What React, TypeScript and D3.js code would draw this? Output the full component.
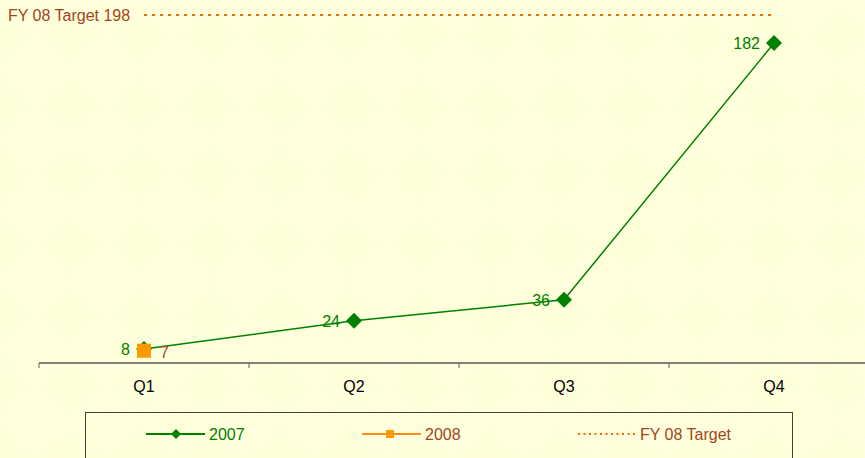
import React from "react";
import * as d3 from "d3";

const categories = ["Q1", "Q2", "Q3", "Q4"];
const values2007 = [8, 24, 36, 182];
const values2008 = [7];
const targetValue = 198;
const targetLabel = "FY 08 Target";
const seriesNames = ["2007", "2008", "FY 08 Target"];

const W = 865;
const H = 458;
const GREEN = "#008000";
const ORANGE_MARK = "#FF9900";
const ORANGE_LINE = "#FF6600";
const BROWN = "#A0461E";
const FONT = "'Liberation Sans', Arial, sans-serif";
const FS = 16;

export default function App() {
  const x = d3.scaleBand<string>().domain(categories).range([39, 879]).padding(0);
  const y = d3.scaleLinear().domain([0, 198]).range([363, 15]);
  const cx = (c: string) => (x(c) as number) + x.bandwidth() / 2;

  const line = d3
    .line<number>()
    .x((_, i) => cx(categories[i]))
    .y((d) => y(d));

  const diamond = (px: number, py: number, r: number) =>
    `M${px},${py - r}L${px + r},${py}L${px},${py + r}L${px - r},${py}Z`;

  const ticks = [...categories.map((c) => x(c) as number), 879];

  return (
    <svg
      width={W}
      height={H}
      style={{ position: "absolute", left: 0, top: 0, display: "block" }}
      fontFamily={FONT}
    >
      <defs>
        <pattern id="bg" width="6" height="6" patternUnits="userSpaceOnUse" patternTransform="rotate(45)">
          <rect width="6" height="6" fill="#FFFFD2" />
          <rect width="3" height="3" fill="#FFFFE6" />
          <rect x="3" y="3" width="3" height="3" fill="#FFFFE6" />
        </pattern>
      </defs>
      <rect width={W} height={H} fill="url(#bg)" />

      {/* target line */}
      <line
        x1={cx(categories[0])}
        x2={cx(categories[3])}
        y1={y(targetValue)}
        y2={y(targetValue)}
        stroke={ORANGE_LINE}
        strokeWidth={2}
        strokeDasharray="3,5"
      />
      <text x={8} y={y(targetValue) + 6} fontSize={FS} fill={BROWN}>
        {`${targetLabel} ${targetValue}`}
      </text>

      {/* axis */}
      <line x1={39} x2={W} y1={363} y2={363} stroke="#808080" strokeWidth={2} />
      {ticks.map((t, i) => (
        <line key={i} x1={t} x2={t} y1={363} y2={368} stroke="#606060" strokeWidth={1} />
      ))}
      {categories.map((c) => (
        <text key={c} x={cx(c)} y={392} fontSize={FS} textAnchor="middle" fill="#000">
          {c}
        </text>
      ))}

      {/* 2007 series */}
      <path d={line(values2007) || ""} fill="none" stroke={GREEN} strokeWidth={1.5} />
      {values2007.map((v, i) => (
        <g key={i}>
          <path d={diamond(cx(categories[i]), y(v), 8)} fill={GREEN} />
          <text
            x={cx(categories[i]) - 14}
            y={y(v) + 6}
            fontSize={FS}
            textAnchor="end"
            fill={GREEN}
          >
            {v}
          </text>
        </g>
      ))}

      {/* 2008 series */}
      {values2008.map((v, i) => (
        <g key={i}>
          <rect x={cx(categories[i]) - 7} y={y(v) - 7} width={14} height={14} fill={ORANGE_MARK} />
          <text x={cx(categories[i]) + 16} y={y(v) + 7} fontSize={FS} fill={BROWN}>
            {v}
          </text>
        </g>
      ))}

      {/* legend */}
      <rect x={85.5} y={412.5} width={707} height={60} fill="none" stroke="#404040" strokeWidth={1} />
      <g>
        <line x1={146} x2={205} y1={434} y2={434} stroke={GREEN} strokeWidth={2} />
        <path d={diamond(176, 434, 5)} fill={GREEN} />
        <text x={209} y={440} fontSize={FS} fill={GREEN}>{seriesNames[0]}</text>

        <line x1={362} x2={421} y1={434} y2={434} stroke="#FF8C1A" strokeWidth={2} />
        <rect x={386} y={430} width={8} height={8} fill={ORANGE_MARK} />
        <text x={425} y={440} fontSize={FS} fill={BROWN}>{seriesNames[1]}</text>

        <line x1={578} x2={636} y1={434} y2={434} stroke={ORANGE_LINE} strokeWidth={2} strokeDasharray="2,3.5" />
        <text x={640} y={440} fontSize={FS} fill={BROWN}>{seriesNames[2]}</text>
      </g>
    </svg>
  );
}
